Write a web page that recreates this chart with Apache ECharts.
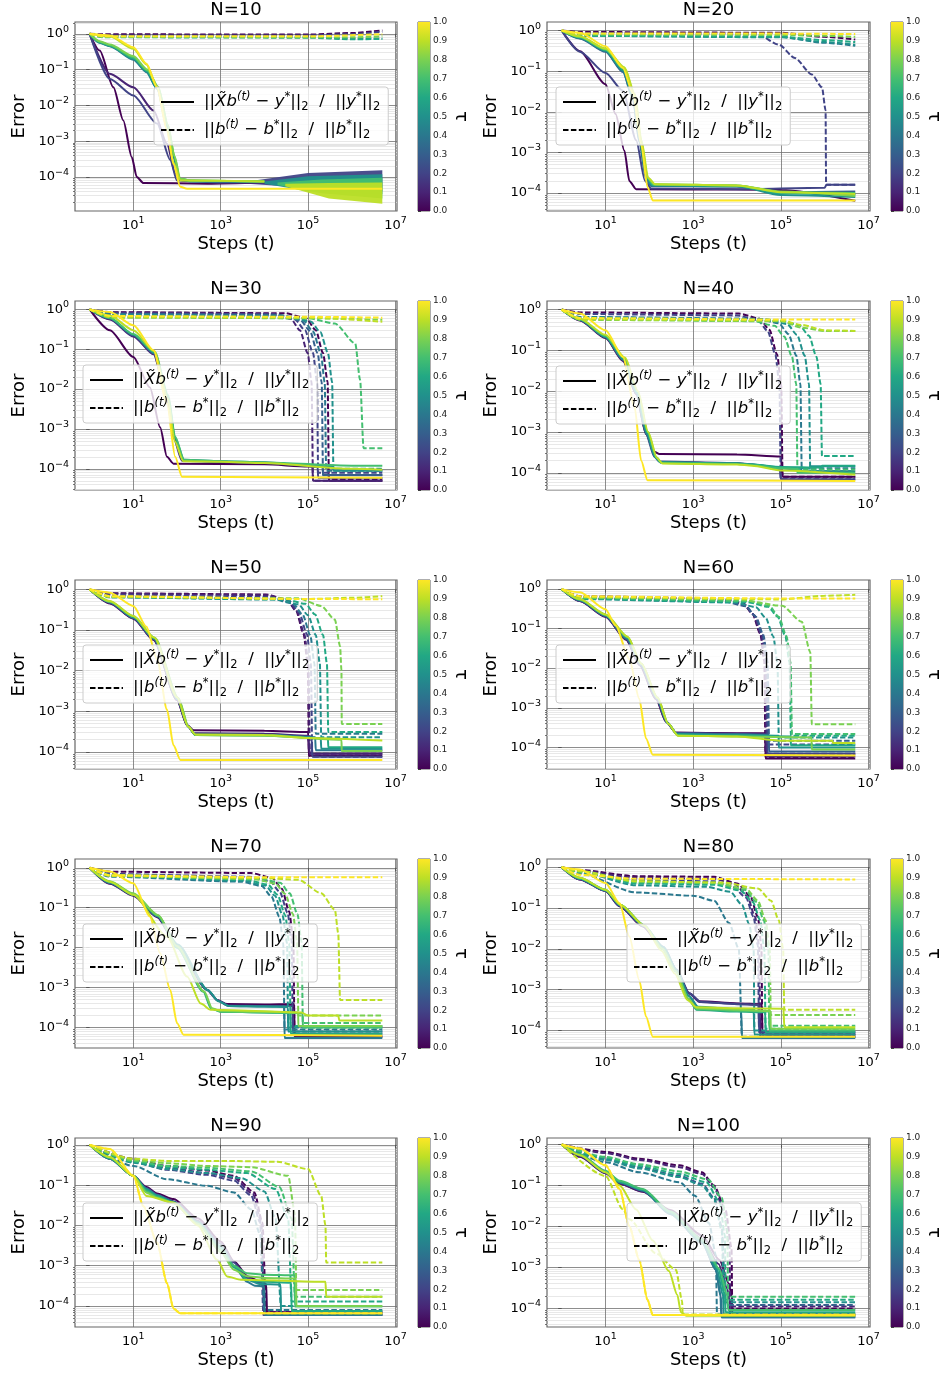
<!DOCTYPE html>
<html><head><meta charset="utf-8">
<script src="https://cdn.jsdelivr.net/npm/echarts@6/dist/echarts.min.js"></script>
<style>html,body{margin:0;padding:0;background:#fff}#c{width:943px;height:1376px}</style>
</head><body><div id="c"></div>
<script>
// ---------------- labels / ticks ----------------
const PANEL_NAMES = ['N=10','N=20','N=30','N=40','N=50','N=60','N=70','N=80','N=90','N=100'];
const X_TICK_EXP = [1, 3, 5, 7];
const Y_TICK_EXP = [0, -1, -2, -3, -4];
const CB_TICKS = [0, 0.1, 0.2, 0.3, 0.4, 0.5, 0.6, 0.7, 0.8, 0.9, 1.0];
const X_NAME = 'Steps (t)', Y_NAME = 'Error', CB_NAME = 'τ';

// ---------------- data: [tau, [t1,err1, t2,err2, ...]] ----------------
const solid_N10 = [
 [0.0,[1,1, 1.7,0.34, 3.5,0.032, 5.9,0.0038, 9.2,3.6e-4, 12,1e-4, 17,6.8e-5, 500,6.5e-5, 1e4,7e-5]],
 [0.1,[1,1, 2.9,0.076, 10,0.032, 29,0.0072, 59,8.5e-4, 91,1.25e-4, 131,8e-5, 1e3,7.5e-5, 1e4,7.5e-5]],
 [0.2,[1,1, 2.9,0.055, 10,0.019, 35,0.0031, 70,3e-4, 100,8e-5, 1e3,7e-5, 1e4,7e-5]],
 [0.4,[1,1, 1.7,0.56, 2.9,0.45, 10,0.19, 20,0.085, 35,0.029, 59,0.0025, 83,3.6e-4, 110,9e-5, 200,7.5e-5, 1e4,7.5e-5]],
 [0.5,[1,1, 1.7,0.57, 2.9,0.46, 10,0.2, 20,0.088, 35,0.03, 60,0.0026, 85,3.6e-4, 112,9e-5, 200,7.6e-5, 1e4,7.5e-5]],
 [0.6,[1,1, 1.7,0.58, 2.9,0.47, 10,0.21, 21,0.09, 36,0.031, 61,0.0027, 86,3.7e-4, 114,9e-5, 200,7.8e-5, 1e4,7.5e-5]],
 [0.7,[1,1, 1.7,0.6, 2.9,0.48, 10,0.22, 21,0.095, 37,0.032, 62,0.0028, 87,3.8e-4, 116,9e-5, 200,8e-5, 1e4,7.5e-5]],
 [0.8,[1,1, 1.7,0.62, 2.9,0.5, 10,0.24, 21,0.1, 37,0.033, 62,0.0028, 88,3.8e-4, 118,9e-5, 200,8e-5, 1e4,7.5e-5]],
 [0.9,[1,1, 2.9,0.85, 10,0.38, 20,0.14, 35,0.032, 59,0.0022, 83,2.5e-4, 120,8e-5, 1e4,7.5e-5]],
 [1.0,[1,1, 2.9,0.9, 10,0.42, 20,0.145, 35,0.032, 59,0.002, 83,2.3e-4, 119,5.3e-5, 170,4.7e-5, 5e6,4.7e-5]]
];
const dashed_N10 = [
 [0.0,[1,1, 2,0.97, 1e5,0.95, 1e6,1.05, 5e6,1.25]],
 [0.2,[1,1, 2,0.9, 1e5,0.9, 1e6,0.98, 5e6,1.15]],
 [0.4,[1,1, 2,0.84, 1e5,0.82, 1e6,0.74, 5e6,0.74]],
 [0.6,[1,1, 2,0.8, 1e5,0.78, 1e6,0.7, 5e6,0.72]],
 [0.8,[1,1, 2,0.82, 1e5,0.8, 1e6,0.8, 5e6,0.85]],
 [1.0,[1,1, 2,0.85, 1e5,0.85, 5e6,0.98]]
];
// noisy tails of N=10: [tau, upper, lower]
const band_N10 = [
 [0.2,[4e3,7.5e-5, 1e5,1.3e-4, 5e6,1.55e-4],[4e3,6.5e-5, 1e5,5e-5, 5e6,4e-5]],
 [0.5,[1e4,7.5e-5, 1e5,1.05e-4, 5e6,1.2e-4],[1e4,6.5e-5, 1e5,4e-5, 5e6,3.3e-5]],
 [0.7,[2e4,7e-5, 2e5,8.5e-5, 5e6,9.5e-5],[2e4,6e-5, 2e5,3.5e-5, 5e6,2.5e-5]],
 [0.9,[3e4,6.5e-5, 3e5,6.8e-5, 5e6,7e-5],[3e4,5.5e-5, 3e5,2.5e-5, 5e6,1.8e-5]]
];

const solid_N20 = [
 [0.0,[1,1, 2.6,0.31, 10,0.048, 17,0.0088, 27,0.0011, 35,2e-4, 50,1.25e-4, 1e4,1.22e-4, 1e5,1.2e-4, 5e6,6.5e-5]],
 [0.2,[1,1, 2.6,0.3, 10,0.09, 25,0.033, 50,0.002, 80,2e-4, 110,1.3e-4, 1e4,1.25e-4, 1e6,1.35e-4, 1.1e6,1.6e-4, 5e6,1.6e-4]],
 [0.3,[1,1, 2.6,0.64, 10,0.3, 25,0.095, 42,0.021, 59,0.0018, 84,2.3e-4, 110,1.5e-4, 1e4,1.45e-4, 1e5,1.05e-4, 5e6,1.1e-4]],
 [0.4,[1,1, 2.6,0.65, 10,0.31, 25,0.1, 42,0.022, 60,0.0019, 85,2.4e-4, 112,1.55e-4, 1e4,1.45e-4, 1e5,1e-4, 5e6,9.5e-5]],
 [0.5,[1,1, 2.6,0.66, 10,0.32, 25,0.105, 43,0.023, 61,0.002, 86,2.4e-4, 115,1.55e-4, 1e4,1.5e-4, 1e5,9e-5, 5e6,8e-5]],
 [0.6,[1,1, 2.6,0.68, 10,0.33, 26,0.11, 44,0.024, 62,0.002, 88,2.4e-4, 120,1.6e-4, 1e4,1.5e-4, 1e5,1e-4, 5e6,9e-5]],
 [0.7,[1,1, 2.6,0.69, 10,0.34, 26,0.115, 45,0.025, 64,0.002, 90,2.4e-4, 125,1.6e-4, 1e4,1.55e-4, 1e5,1.05e-4, 5e6,1e-4]],
 [0.8,[1,1, 2.6,0.7, 10,0.35, 27,0.12, 46,0.026, 65,0.002, 92,2.4e-4, 130,1.65e-4, 1e4,1.55e-4, 1e5,1.1e-4, 5e6,8.5e-5]],
 [0.9,[1,1, 2.6,0.72, 10,0.36, 27,0.125, 47,0.027, 66,0.002, 94,2.4e-4, 135,1.65e-4, 1e4,1.55e-4, 1e5,1.05e-4, 5e6,9.5e-5]],
 [1.0,[1,1, 2.6,0.88, 10,0.41, 25,0.12, 42,0.029, 65,0.0016, 91,1.4e-4, 120,6.6e-5, 5e6,6.6e-5]]
];
const dashed_N20 = [
 [0.0,[1,1, 2.6,0.92, 1e5,0.88, 1e6,0.7, 5e6,0.6]],
 [0.2,[1,1, 2.6,0.86, 3e4,0.8, 9e4,0.45, 2.1e5,0.21, 5.1e5,0.083, 8.7e5,0.04, 1.05e6,0.011, 1.08e6,1.6e-4, 5e6,1.6e-4]],
 [0.4,[1,1, 2.6,0.76, 1e5,0.7, 1e6,0.5, 5e6,0.42]],
 [0.5,[1,1, 2.6,0.74, 1e5,0.68, 1e6,0.52, 5e6,0.45]],
 [0.6,[1,1, 2.6,0.74, 1e5,0.7, 1e6,0.58, 5e6,0.52]],
 [0.8,[1,1, 2.6,0.8, 1e5,0.78, 1e6,0.74, 5e6,0.7]],
 [1.0,[1,1, 2.6,0.84, 1e5,0.84, 5e6,0.82]]
];

const solid_N30 = [
 [0.0,[1,1, 2.9,0.3, 10,0.064, 24,0.011, 41,1.1e-3, 59,2e-4, 83,1.35e-4, 1e4,1.3e-4, 1e5,1.15e-4, 2.9e5,1.1e-4, 3e5,5e-5, 5e6,5e-5]],
 [0.1,[1,1, 2.9,0.56, 10,0.21, 29,0.075, 59,0.006, 83,6e-4, 130,1.6e-4, 1e3,1.5e-4, 1e4,1.4e-4, 1.25e5,1.2e-4, 1.3e5,5e-5, 5e6,5e-5]],
 [0.2,[1,1, 2.9,0.58, 10,0.22, 29,0.078, 60,0.0065, 85,6.3e-4, 135,1.65e-4, 1e3,1.5e-4, 1e4,1.4e-4, 1.65e5,1.15e-4, 1.7e5,6e-5, 5e6,6e-5]],
 [0.3,[1,1, 2.9,0.6, 10,0.23, 30,0.08, 62,0.0065, 88,6.3e-4, 140,1.6e-4, 1e3,1.5e-4, 1e4,1.45e-4, 2.15e5,1.15e-4, 2.2e5,7e-5, 5e6,7e-5]],
 [0.5,[1,1, 2.9,0.6, 10,0.23, 31,0.08, 63,0.006, 90,6e-4, 145,1.7e-4, 1e3,1.55e-4, 1e4,1.45e-4, 3.7e5,1.15e-4, 3.8e5,9e-5, 5e6,9e-5]],
 [0.7,[1,1, 2.9,0.62, 10,0.24, 31,0.085, 63,0.007, 90,6.5e-4, 145,1.7e-4, 1e3,1.55e-4, 1e4,1.45e-4, 1e6,1.2e-4, 5e6,1.2e-4]],
 [0.9,[1,1, 2.9,0.7, 10,0.3, 30,0.09, 62,0.0055, 88,5e-4, 140,1.55e-4, 1e3,1.5e-4, 1e4,1.4e-4, 1e6,1e-4, 5e6,9.5e-5]],
 [1.0,[1,1, 2.9,0.86, 10,0.4, 29,0.094, 59,0.0043, 91,2e-4, 130,6.3e-5, 5e6,6e-5]]
];
const dashed_N30 = [
 [0.0,[1,1, 3,0.85, 3e4,0.8, 9e4,0.6, 1.5e5,0.3, 2.2e5,0.08, 2.8e5,0.015, 3e5,5.5e-5, 5e6,5.5e-5]],
 [0.1,[1,1, 3,0.83, 1.3e4,0.78, 4e4,0.58, 6.5e4,0.3, 9.8e4,0.08, 1.2e5,0.015, 1.3e5,5e-5, 5e6,5e-5]],
 [0.2,[1,1, 3,0.8, 1.7e4,0.75, 5e4,0.56, 8.5e4,0.3, 1.3e5,0.08, 1.6e5,0.015, 1.7e5,8e-5, 5e6,8e-5]],
 [0.3,[1,1, 3,0.77, 2.2e4,0.72, 6.6e4,0.54, 1.1e5,0.29, 1.65e5,0.08, 2.05e5,0.015, 2.2e5,7e-5, 5e6,7e-5]],
 [0.4,[1,1, 3,0.75, 2.6e4,0.7, 7.8e4,0.52, 1.3e5,0.28, 1.95e5,0.08, 2.4e5,0.015, 2.6e5,9e-5, 5e6,9e-5]],
 [0.5,[1,1, 3,0.72, 3.8e4,0.66, 1.15e5,0.5, 1.9e5,0.27, 2.85e5,0.08, 3.55e5,0.015, 3.8e5,1e-4, 5e6,1e-4]],
 [0.7,[1,1, 3,0.65, 1e5,0.6, 4.1e5,0.44, 1.2e6,0.14, 1.55e6,0.017, 1.86e6,3.3e-4, 5e6,3.3e-4]],
 [0.8,[1,1, 3,0.62, 1e5,0.6, 5e6,0.55]],
 [0.9,[1,1, 3,0.64, 1e5,0.62, 5e6,0.49]],
 [1.0,[1,1, 3,0.68, 1e5,0.65, 5e6,0.62]]
];

const solid_N40 = [
 [0.0,[1,1, 2.6,0.54, 10,0.2, 25,0.055, 50,0.0085, 84,9e-4, 130,3.3e-4, 170,2.9e-4, 1e4,2.8e-4, 1e5,2.5e-4, 1.1e5,8e-5, 5e6,8e-5]],
 [0.2,[1,1, 2.6,0.55, 10,0.21, 25,0.057, 50,0.0088, 84,9e-4, 130,2.5e-4, 170,1.9e-4, 1e4,1.75e-4, 2.2e4,1.6e-4, 9.5e4,1.2e-4, 1e5,7e-5, 5e6,7e-5]],
 [0.4,[1,1, 2.6,0.56, 10,0.21, 26,0.058, 51,0.009, 86,9e-4, 135,2.4e-4, 175,1.85e-4, 1e4,1.7e-4, 2.2e4,1.6e-4, 1e5,1.3e-4, 2.95e5,1.2e-4, 3e5,1.1e-4, 5e6,1.1e-4]],
 [0.5,[1,1, 2.6,0.57, 10,0.22, 26,0.06, 52,0.009, 88,9.5e-4, 138,2.4e-4, 180,1.8e-4, 1e4,1.7e-4, 2.2e4,1.6e-4, 1e5,1.35e-4, 4.6e5,1.3e-4, 4.7e5,1.45e-4, 5e6,1.45e-4]],
 [0.6,[1,1, 2.6,0.58, 10,0.22, 27,0.062, 53,0.0095, 90,9.5e-4, 140,2.4e-4, 185,1.8e-4, 1e4,1.7e-4, 2.2e4,1.6e-4, 1e5,1.4e-4, 8.6e5,1.35e-4, 8.7e5,1.5e-4, 5e6,1.5e-4]],
 [0.7,[1,1, 2.6,0.58, 10,0.23, 27,0.064, 54,0.01, 92,1e-3, 145,2.4e-4, 190,1.75e-4, 1e4,1.65e-4, 2.2e4,1.55e-4, 1e5,1.3e-4, 2.35e5,1.25e-4, 2.4e5,1e-4, 5e6,1e-4]],
 [0.9,[1,1, 2.6,0.6, 10,0.24, 28,0.066, 55,0.01, 94,1e-3, 150,2.3e-4, 200,1.7e-4, 1e4,1.6e-4, 2.2e4,1.5e-4, 1e5,1.15e-4, 5e6,9e-5]],
 [1.0,[1,1, 2.6,0.8, 10,0.31, 25,0.069, 46,0.0042, 65,2e-4, 91,6.6e-5, 5e6,6.3e-5]]
];
const dashed_N40 = [
 [0.0,[1,1, 2.6,0.85, 1.1e4,0.8, 3.3e4,0.6, 5.5e4,0.32, 8.2e4,0.08, 1.02e5,0.015, 1.1e5,8e-5, 5e6,8e-5]],
 [0.2,[1,1, 2.6,0.78, 1e4,0.72, 3e4,0.55, 5e4,0.3, 7.5e4,0.08, 9.3e4,0.015, 1e5,7e-5, 5e6,7e-5]],
 [0.4,[1,1, 2.6,0.66, 3e4,0.6, 9e4,0.46, 1.5e5,0.25, 2.25e5,0.075, 2.8e5,0.015, 3e5,1.3e-4, 5e6,1.3e-4]],
 [0.5,[1,1, 2.6,0.64, 4.7e4,0.58, 1.4e5,0.44, 2.35e5,0.24, 3.5e5,0.075, 4.4e5,0.015, 4.7e5,1.1e-4, 5e6,1.1e-4]],
 [0.6,[1,1, 2.6,0.62, 8.7e4,0.55, 2.6e5,0.42, 4.4e5,0.23, 6.5e5,0.07, 8.1e5,0.015, 8.7e5,2.6e-4, 5e6,2.6e-4]],
 [0.7,[1,1, 2.6,0.6, 2.4e4,0.52, 7.2e4,0.4, 1.2e5,0.22, 1.8e5,0.07, 2.25e5,0.015, 2.4e5,1.2e-4, 5e6,1.2e-4]],
 [0.8,[1,1, 2.6,0.56, 1e5,0.52, 3e5,0.36, 1e6,0.3, 5e6,0.3]],
 [0.9,[1,1, 2.6,0.58, 1e5,0.54, 3e5,0.42, 1e6,0.31, 5e6,0.3]],
 [1.0,[1,1, 2.6,0.62, 1e5,0.57, 5e6,0.57]]
];

const solid_N50 = [
 [0.0,[1,1, 2.9,0.45, 10,0.19, 29,0.057, 100,0.0019, 170,4.6e-4, 240,3.4e-4, 1e4,3.3e-4, 1e5,3.1e-4, 1.05e5,8e-5, 5e6,8e-5]],
 [0.1,[1,1, 2.9,0.46, 10,0.195, 29,0.058, 100,0.0019, 172,4.4e-4, 245,2.9e-4, 1e4,2.8e-4, 1e5,2.5e-4, 1.1e5,9e-5, 5e6,9e-5]],
 [0.2,[1,1, 2.9,0.47, 10,0.2, 29,0.06, 100,0.002, 175,4.4e-4, 250,2.8e-4, 1e4,2.7e-4, 1.2e5,2.4e-4, 1.25e5,7.6e-5, 5e6,7.6e-5]],
 [0.4,[1,1, 2.9,0.48, 10,0.2, 30,0.06, 102,0.002, 178,4.3e-4, 255,2.7e-4, 1e4,2.6e-4, 1.45e5,2.3e-4, 1.5e5,1.1e-4, 5e6,1.1e-4]],
 [0.5,[1,1, 2.9,0.49, 10,0.21, 30,0.062, 104,0.002, 180,4.2e-4, 260,2.6e-4, 1e4,2.6e-4, 1.95e5,2.2e-4, 2e5,1.2e-4, 5e6,1.2e-4]],
 [0.6,[1,1, 2.9,0.5, 10,0.21, 31,0.063, 106,0.0021, 182,4.2e-4, 265,2.6e-4, 1e4,2.55e-4, 2.85e5,2.1e-4, 2.9e5,1.3e-4, 5e6,1.3e-4]],
 [0.8,[1,1, 2.9,0.5, 10,0.22, 31,0.064, 108,0.0021, 185,4.1e-4, 270,2.6e-4, 1e4,2.5e-4, 5.8e5,2e-4, 5.9e5,1.05e-4, 5e6,1.05e-4]],
 [0.9,[1,1, 2.9,0.52, 10,0.22, 30,0.065, 100,0.0022, 180,4.2e-4, 260,2.7e-4, 1e4,2.6e-4, 1e5,2.2e-4, 5e6,1.9e-4]],
 [1.0,[1,1, 2.9,0.83, 10,0.39, 20,0.12, 35,0.019, 59,1.1e-3, 83,1.45e-4, 120,6.3e-5, 5e6,6.3e-5]]
];
const dashed_N50 = [
 [0.0,[1,1, 2.9,0.8, 1.05e4,0.75, 3.2e4,0.57, 5.3e4,0.3, 7.9e4,0.08, 9.8e4,0.015, 1.05e5,8e-5, 5e6,8e-5]],
 [0.1,[1,1, 2.9,0.78, 1.1e4,0.72, 3.3e4,0.55, 5.5e4,0.29, 8.2e4,0.08, 1.02e5,0.015, 1.1e5,9e-5, 5e6,9e-5]],
 [0.2,[1,1, 2.9,0.72, 1.25e4,0.65, 3.8e4,0.5, 6.2e4,0.27, 9.4e4,0.08, 1.16e5,0.015, 1.25e5,7.6e-5, 5e6,7.6e-5]],
 [0.4,[1,1, 2.9,0.66, 1.5e4,0.58, 4.5e4,0.45, 7.5e4,0.24, 1.12e5,0.075, 1.4e5,0.015, 1.5e5,2.8e-4, 5e6,2.8e-4]],
 [0.5,[1,1, 2.9,0.64, 2e4,0.56, 6e4,0.43, 1e5,0.23, 1.5e5,0.075, 1.86e5,0.015, 2e5,2.3e-4, 5e6,2.3e-4]],
 [0.6,[1,1, 2.9,0.64, 2.9e4,0.57, 8.7e4,0.44, 1.45e5,0.24, 2.2e5,0.075, 2.7e5,0.015, 2.9e5,3.1e-4, 5e6,3.1e-4]],
 [0.8,[1,1, 2.9,0.65, 6e4,0.6, 2e5,0.39, 4.1e5,0.18, 5.4e5,0.04, 5.8e5,0.01, 5.9e5,4.9e-4, 5e6,4.9e-4]],
 [0.9,[1,1, 2.9,0.66, 1e5,0.58, 1e6,0.62, 5e6,0.68]],
 [1.0,[1,1, 2.9,0.68, 1e5,0.58, 5e6,0.57]]
];

const solid_N60 = [
 [0.0,[1,1, 2.6,0.5, 10,0.2, 29.5,0.053, 60,0.012, 141,0.0017, 240,4.5e-4, 405,2.4e-4, 1e4,2.3e-4, 4.4e4,2.3e-4, 4.5e4,5.3e-5, 5e6,5.3e-5]],
 [0.1,[1,1, 2.6,0.5, 10,0.205, 29.5,0.054, 61,0.012, 143,0.0017, 245,4.4e-4, 410,2.35e-4, 1e4,2.25e-4, 4.6e4,2.2e-4, 4.7e4,6e-5, 5e6,6e-5]],
 [0.2,[1,1, 2.6,0.51, 10,0.21, 30,0.055, 62,0.012, 145,0.0017, 250,4.4e-4, 415,2.3e-4, 1e4,2.2e-4, 4.9e4,2.1e-4, 5e4,7e-5, 5e6,7e-5]],
 [0.3,[1,1, 2.6,0.52, 10,0.21, 30,0.056, 63,0.0125, 148,0.0018, 255,4.3e-4, 420,2.3e-4, 1e4,2.2e-4, 5.3e4,2.1e-4, 5.4e4,8e-5, 5e6,8e-5]],
 [0.5,[1,1, 2.6,0.53, 10,0.22, 31,0.058, 64,0.013, 150,0.0018, 260,4.2e-4, 430,2.2e-4, 1e4,2.1e-4, 8.9e4,2e-4, 9e4,1e-4, 5e6,1e-4]],
 [0.6,[1,1, 2.6,0.54, 10,0.22, 31,0.06, 65,0.013, 152,0.0018, 265,4.1e-4, 440,2.1e-4, 1e4,2e-4, 1.68e5,1.9e-4, 1.7e5,1.15e-4, 5e6,1.15e-4]],
 [0.8,[1,1, 2.6,0.55, 10,0.23, 32,0.062, 66,0.013, 155,0.0018, 270,4e-4, 450,2e-4, 1e4,1.9e-4, 5e5,1.8e-4, 5.1e5,9e-5, 5e6,9e-5]],
 [0.9,[1,1, 2.6,0.56, 10,0.23, 32,0.063, 66,0.013, 155,0.0018, 270,4e-4, 450,2e-4, 1e4,1.9e-4, 1e5,1.5e-4, 1.5e6,1.5e-4, 1.55e6,1.3e-4, 5e6,1.3e-4]],
 [1.0,[1,1, 2.6,0.83, 10,0.31, 17,0.12, 35,0.017, 59,0.0017, 84,1.7e-4, 120,6.6e-5, 5e6,6.3e-5]]
];
const dashed_N60 = [
 [0.0,[1,1, 2.6,0.66, 4.5e3,0.58, 1.35e4,0.45, 2.25e4,0.24, 3.4e4,0.075, 4.2e4,0.015, 4.5e4,5.5e-5, 5e6,5.5e-5]],
 [0.1,[1,1, 2.6,0.63, 4.7e3,0.55, 1.4e4,0.43, 2.35e4,0.23, 3.5e4,0.075, 4.4e4,0.015, 4.7e4,7e-5, 5e6,7e-5]],
 [0.2,[1,1, 2.6,0.6, 5e3,0.52, 1.5e4,0.4, 2.5e4,0.22, 3.75e4,0.07, 4.65e4,0.015, 5e4,1.2e-4, 5e6,1.2e-4]],
 [0.3,[1,1, 2.6,0.58, 5.4e3,0.48, 1.6e4,0.37, 2.7e4,0.2, 4e4,0.07, 5e4,0.015, 5.4e4,1.5e-4, 5e6,1.5e-4]],
 [0.5,[1,1, 2.6,0.56, 9e3,0.46, 2.7e4,0.35, 4.5e4,0.19, 6.7e4,0.065, 8.4e4,0.014, 9e4,1.8e-4, 5e6,1.8e-4]],
 [0.6,[1,1, 2.6,0.57, 1.7e4,0.47, 5.1e4,0.36, 8.5e4,0.2, 1.27e5,0.065, 1.58e5,0.014, 1.7e5,2e-4, 5e6,2e-4]],
 [0.7,[1,1, 2.6,0.6, 1.8e4,0.5, 5.4e4,0.38, 9e4,0.2, 1.35e5,0.065, 1.67e5,0.014, 1.8e5,2.2e-4, 5e6,2.2e-4]],
 [0.8,[1,1, 2.6,0.62, 1e4,0.55, 1.07e5,0.38, 3e5,0.15, 4.7e5,0.026, 5.1e5,3.9e-4, 5e6,3.9e-4]],
 [0.9,[1,1, 2.6,0.63, 1e5,0.55, 1e6,0.68, 5e6,0.72]],
 [1.0,[1,1, 2.6,0.66, 1e5,0.58, 5e6,0.58]]
];

const solid_N70 = [
 [0.0,[1,1, 2.9,0.4, 10,0.2, 35,0.058, 100,0.011, 490,8.8e-4, 830,4.9e-4, 1.4e3,3.9e-4, 1e4,3.8e-4, 4.8e4,3.9e-4, 4.9e4,6e-5, 5e6,6e-5]],
 [0.2,[1,1, 2.9,0.41, 10,0.205, 35,0.06, 100,0.0115, 500,8.8e-4, 850,4.8e-4, 1.5e3,3.6e-4, 1e4,3.5e-4, 4.4e4,3.5e-4, 4.5e4,7e-5, 5e6,7e-5]],
 [0.4,[1,1, 2.9,0.42, 10,0.21, 36,0.061, 102,0.0115, 510,8.6e-4, 870,4.7e-4, 1.5e3,3.5e-4, 1e4,3.4e-4, 2.85e4,3.4e-4, 2.9e4,5.5e-5, 5e6,5.5e-5]],
 [0.5,[1,1, 2.9,0.43, 10,0.21, 36,0.062, 104,0.012, 520,8.5e-4, 880,4.6e-4, 1.5e3,3.5e-4, 1e4,3.4e-4, 3.45e4,3.3e-4, 3.5e4,8e-5, 5e6,8e-5]],
 [0.6,[1,1, 2.9,0.44, 10,0.22, 36,0.063, 100,0.01, 400,8e-4, 600,3e-4, 1e3,2.5e-4, 1e4,2.4e-4, 3.9e4,2.3e-4, 4e4,7e-5, 5e6,7e-5]],
 [0.7,[1,1, 2.9,0.45, 10,0.22, 37,0.064, 100,0.0105, 410,8e-4, 620,3e-4, 1e3,2.5e-4, 1e4,2.4e-4, 7.5e4,2.3e-4, 7.6e4,1e-4, 5e6,1e-4]],
 [0.8,[1,1, 2.9,0.46, 10,0.23, 37,0.065, 100,0.011, 420,8e-4, 640,3e-4, 1e3,2.6e-4, 1e4,2.5e-4, 5.9e4,2.4e-4, 6e4,1.1e-4, 5e6,1.1e-4]],
 [0.9,[1,1, 2.9,0.45, 10,0.21, 59,0.019, 170,0.0019, 350,4e-4, 590,2.8e-4, 7e4,2.4e-4, 1e5,2e-4, 4.9e5,2e-4, 5.2e5,1.5e-4, 5e6,1.5e-4]],
 [1.0,[1,1, 2.9,0.81, 10,0.41, 24,0.06, 41,0.0073, 70,8.8e-4, 100,1.3e-4, 141,6.6e-5, 5e6,6.3e-5]]
];
const dashed_N70 = [
 [0.0,[1,1, 2.9,0.8, 4.9e3,0.74, 1.5e4,0.56, 2.5e4,0.3, 3.7e4,0.08, 4.6e4,0.015, 4.9e4,6e-5, 5e6,6e-5]],
 [0.2,[1,1, 2.9,0.7, 4.5e3,0.6, 1.35e4,0.46, 2.25e4,0.25, 3.4e4,0.075, 4.2e4,0.015, 4.5e4,8e-5, 5e6,8e-5]],
 [0.4,[1,1, 2.9,0.6, 2.9e3,0.45, 8.7e3,0.35, 1.45e4,0.19, 2.2e4,0.06, 2.7e4,0.013, 2.9e4,9e-5, 5e6,9e-5]],
 [0.5,[1,1, 2.9,0.62, 3.5e3,0.47, 1.05e4,0.36, 1.75e4,0.2, 2.6e4,0.065, 3.3e4,0.013, 3.5e4,1e-4, 5e6,1e-4]],
 [0.6,[1,1, 2.9,0.64, 4e3,0.5, 1.2e4,0.38, 2e4,0.21, 3e4,0.065, 3.7e4,0.013, 4e4,1.1e-4, 5e6,1.1e-4]],
 [0.7,[1,1, 2.9,0.66, 7.6e3,0.55, 2.3e4,0.42, 3.8e4,0.23, 5.7e4,0.07, 7.1e4,0.014, 7.6e4,1.3e-4, 5e6,1.3e-4]],
 [0.8,[1,1, 2.9,0.65, 6e3,0.52, 1.8e4,0.4, 3e4,0.22, 4.5e4,0.07, 5.6e4,0.014, 6e4,2e-4, 5e6,2e-4]],
 [0.9,[1,1, 2.9,0.62, 1e4,0.55, 6e4,0.5, 2e5,0.23, 4.1e5,0.089, 4.9e5,0.023, 5.4e5,4.9e-4, 5e6,4.9e-4]],
 [1.0,[1,1, 2.9,0.65, 1e4,0.58, 5e6,0.58]]
];

const solid_N80 = [
 [0.0,[1,1, 2.6,0.5, 10,0.26, 21,0.11, 71,0.035, 200,0.01, 405,0.003, 810,8.1e-4, 1.4e3,5.2e-4, 1e4,4.6e-4, 3.7e4,4.4e-4, 3.8e4,8e-5, 5e6,8e-5]],
 [0.1,[1,1, 2.6,0.5, 10,0.26, 21,0.11, 72,0.036, 205,0.0105, 410,0.003, 820,8e-4, 1.4e3,5e-4, 1e4,4.5e-4, 3.3e4,4.3e-4, 3.4e4,7e-5, 5e6,7e-5]],
 [0.2,[1,1, 2.6,0.51, 10,0.265, 21,0.112, 73,0.036, 210,0.011, 420,0.0031, 830,8e-4, 1.5e3,5e-4, 1e4,4.4e-4, 3.1e4,4.2e-4, 3.2e4,9e-5, 5e6,9e-5]],
 [0.4,[1,1, 2.6,0.52, 10,0.27, 22,0.115, 74,0.037, 210,0.011, 420,0.003, 800,7e-4, 1.3e3,3.5e-4, 1e4,3e-4, 1.25e4,3e-4, 1.3e4,6.5e-5, 5e6,6.5e-5]],
 [0.5,[1,1, 2.6,0.52, 10,0.27, 22,0.115, 74,0.037, 210,0.011, 420,0.003, 800,7e-4, 1.3e3,3.8e-4, 1e4,3.3e-4, 2.4e4,3.2e-4, 2.5e4,8e-5, 5e6,8e-5]],
 [0.6,[1,1, 2.6,0.53, 10,0.275, 22,0.118, 75,0.038, 200,0.01, 400,0.0028, 780,6e-4, 1.2e3,3.2e-4, 1e4,2.9e-4, 4.4e4,2.8e-4, 4.5e4,9e-5, 5e6,9e-5]],
 [0.7,[1,1, 2.6,0.54, 10,0.28, 22,0.12, 76,0.038, 200,0.01, 400,0.0028, 780,6e-4, 1.2e3,3.3e-4, 1e4,3e-4, 5.4e4,2.9e-4, 5.5e4,1e-4, 5e6,1e-4]],
 [0.8,[1,1, 2.6,0.55, 10,0.28, 22,0.12, 76,0.038, 200,0.01, 400,0.0028, 780,6e-4, 1.2e3,3.5e-4, 1e4,3.2e-4, 5.8e4,3e-4, 5.9e4,1.1e-4, 5e6,1.1e-4]],
 [0.9,[1,1, 2.6,0.55, 10,0.28, 22,0.12, 76,0.037, 190,0.009, 380,0.0025, 750,5.5e-4, 1.2e3,3.7e-4, 1e4,3.5e-4, 1.15e5,3.4e-4, 1.2e5,1.2e-4, 5e6,1.2e-4]],
 [1.0,[1,1, 2.6,0.88, 10,0.41, 21,0.13, 35,0.02, 59,0.0017, 84,2.2e-4, 120,7e-5, 5e6,7e-5]]
];
const dashed_N80 = [
 [0.0,[1,1, 2.6,0.85, 50,0.6, 3e3,0.58, 1e4,0.4, 2e4,0.2, 3e4,0.06, 3.6e4,0.012, 3.8e4,8e-5, 5e6,8e-5]],
 [0.1,[1,1, 2.6,0.82, 50,0.55, 3e3,0.52, 9e3,0.38, 1.7e4,0.2, 2.6e4,0.06, 3.2e4,0.012, 3.4e4,7e-5, 5e6,7e-5]],
 [0.2,[1,1, 2.6,0.8, 50,0.48, 3e3,0.45, 8e3,0.33, 1.6e4,0.18, 2.4e4,0.06, 3e4,0.012, 3.2e4,9e-5, 5e6,9e-5]],
 [0.4,[1,1, 2.6,0.7, 50,0.24, 1e3,0.2, 3e3,0.15, 6.6e3,0.043, 1.1e4,0.01, 1.3e4,7e-5, 5e6,7e-5]],
 [0.5,[1,1, 2.6,0.75, 50,0.36, 2e3,0.33, 7e3,0.25, 1.3e4,0.12, 1.9e4,0.04, 2.4e4,0.01, 2.5e4,1e-4, 5e6,1e-4]],
 [0.6,[1,1, 2.6,0.76, 50,0.4, 3e3,0.37, 1.2e4,0.27, 2.3e4,0.14, 3.4e4,0.05, 4.2e4,0.01, 4.5e4,1.1e-4, 5e6,1.1e-4]],
 [0.7,[1,1, 2.6,0.78, 50,0.43, 3e3,0.4, 1.5e4,0.28, 2.8e4,0.14, 4.1e4,0.05, 5.2e4,0.01, 5.5e4,1.3e-4, 5e6,1.3e-4]],
 [0.8,[1,1, 2.6,0.78, 50,0.45, 3e3,0.42, 1.6e4,0.3, 3e4,0.15, 4.5e4,0.05, 5.6e4,0.01, 5.9e4,2.4e-4, 5e6,2.4e-4]],
 [0.9,[1,1, 2.6,0.8, 50,0.45, 5e3,0.42, 3e4,0.3, 6e4,0.15, 9e4,0.05, 1.13e5,0.01, 1.2e5,3.2e-4, 5e6,3.2e-4]],
 [1.0,[1,1, 2.6,0.65, 50,0.52, 5e6,0.5]]
];

const solid_N90 = [
 [0.0,[1,1, 2.9,0.45, 10,0.17, 20,0.09, 35,0.062, 83,0.045, 300,0.015, 1e3,0.004, 2e3,0.0013, 4.2e3,5.4e-4, 8e3,4e-4, 1.1e4,3.5e-4, 1.15e4,7e-5, 5e6,7e-5]],
 [0.2,[1,1, 2.9,0.45, 10,0.17, 20,0.085, 35,0.058, 83,0.04, 300,0.013, 1e3,0.0035, 2e3,0.0012, 4e3,5e-4, 8e3,3.8e-4, 9.5e3,3.5e-4, 9.8e3,6e-5, 5e6,6e-5]],
 [0.4,[1,1, 2.9,0.45, 10,0.17, 20,0.08, 35,0.055, 83,0.038, 300,0.012, 1e3,0.003, 2e3,0.001, 4e3,4e-4, 6e3,3.2e-4, 1e4,3.1e-4, 1.02e4,6e-5, 5e6,6e-5]],
 [0.5,[1,1, 2.9,0.46, 10,0.17, 20,0.08, 35,0.055, 83,0.038, 300,0.012, 1e3,0.003, 2e3,0.001, 4e3,4.5e-4, 8e3,3.5e-4, 2.35e4,3.4e-4, 2.4e4,6.5e-5, 5e6,6.5e-5]],
 [0.6,[1,1, 2.9,0.47, 10,0.17, 20,0.075, 35,0.052, 83,0.037, 300,0.011, 1e3,0.0028, 2e3,9e-4, 4e3,4.5e-4, 1e4,4e-4, 4.1e4,3.8e-4, 4.2e4,7.5e-5, 5e6,7.5e-5]],
 [0.7,[1,1, 2.9,0.48, 10,0.17, 20,0.07, 35,0.05, 83,0.036, 300,0.011, 1e3,0.0025, 2e3,0.001, 4e3,6.5e-4, 1e4,6e-4, 4.9e4,5.8e-4, 5e4,9.7e-5, 5e6,9.7e-5]],
 [0.8,[1,1, 2.9,0.49, 10,0.17, 20,0.065, 35,0.048, 83,0.036, 300,0.011, 1e3,0.0022, 2e3,8e-4, 4e3,5.5e-4, 1e4,5e-4, 5.3e4,4.8e-4, 5.4e4,1e-4, 5e6,1e-4]],
 [0.9,[1,1, 2.9,0.5, 10,0.17, 20,0.054, 83,0.037, 300,0.01, 830,0.0014, 1.4e3,5.4e-4, 2.9e3,4.5e-4, 2.5e5,4e-4, 2.6e5,1.7e-4, 5e6,1.7e-4]],
 [1.0,[1,1, 2.9,0.79, 10,0.17, 17,0.03, 35,0.0037, 59,3.7e-4, 83,8.7e-5, 119,6.6e-5, 5e6,6.6e-5]]
];
const dashed_N90 = [
 [0.0,[1,1, 10,0.45, 59,0.3, 490,0.23, 2e3,0.17, 5.9e3,0.066, 9e3,0.012, 1.1e4,7e-5, 5e6,7e-5]],
 [0.1,[1,1, 10,0.42, 59,0.27, 490,0.2, 2e3,0.15, 5.5e3,0.06, 8.5e3,0.012, 1e4,6.5e-5, 5e6,6.5e-5]],
 [0.2,[1,1, 10,0.38, 59,0.24, 490,0.18, 2e3,0.13, 5e3,0.055, 8e3,0.012, 9.5e3,6e-5, 5e6,6e-5]],
 [0.4,[1,1, 10,0.3, 59,0.14, 490,0.096, 2e3,0.066, 5e3,0.025, 8e3,0.006, 1e4,8e-5, 5e6,8e-5]],
 [0.5,[1,1, 10,0.36, 59,0.25, 490,0.2, 3e3,0.15, 1e4,0.07, 1.8e4,0.015, 2.4e4,1e-4, 5e6,1e-4]],
 [0.6,[1,1, 10,0.38, 59,0.28, 490,0.24, 4e3,0.2, 1.8e4,0.08, 3.5e4,0.015, 4.2e4,1.3e-4, 5e6,1.3e-4]],
 [0.7,[1,1, 10,0.4, 59,0.3, 490,0.27, 5e3,0.22, 2.2e4,0.09, 4.2e4,0.015, 5e4,1.7e-4, 5e6,1.7e-4]],
 [0.8,[1,1, 10,0.42, 59,0.35, 490,0.3, 5e3,0.28, 3.5e4,0.17, 5e4,0.02, 5.4e4,2.5e-4, 5e6,2.5e-4]],
 [0.9,[1,1, 10,0.45, 59,0.4, 1e3,0.4, 2e4,0.38, 1e5,0.25, 2e5,0.054, 2.5e5,0.01, 2.6e5,1.2e-3, 5e6,1.2e-3]],
 [1.0,[1,1, 2.9,0.79, 10,0.17, 17,0.03, 35,0.0037, 59,3.7e-4, 83,8.7e-5, 119,6.6e-5, 5e6,6.6e-5]]
];

const solid_N100 = [
 [0.0,[1,1, 2.6,0.5, 10,0.2, 21,0.11, 71,0.07, 300,0.025, 1.6e3,0.006, 4e3,0.0015, 6.5e3,4e-4, 7.6e3,2e-4, 7.8e3,7e-5, 5e6,7e-5]],
 [0.1,[1,1, 2.6,0.52, 10,0.2, 21,0.11, 71,0.072, 300,0.023, 1.6e3,0.005, 3.8e3,0.0012, 6e3,3e-4, 6.8e3,1.5e-4, 7e3,6.5e-5, 5e6,6.5e-5]],
 [0.3,[1,1, 2.6,0.54, 10,0.21, 21,0.12, 71,0.075, 300,0.02, 1.6e3,0.004, 3.3e3,8.7e-4, 4.3e3,1.9e-4, 4.5e3,6e-5, 5e6,6e-5]],
 [0.4,[1,1, 2.6,0.55, 10,0.21, 21,0.12, 71,0.075, 300,0.02, 1.6e3,0.004, 3.3e3,8.7e-4, 4.2e3,2e-4, 4.4e3,6e-5, 5e6,6e-5]],
 [0.5,[1,1, 2.6,0.56, 10,0.22, 21,0.12, 71,0.077, 300,0.021, 1.6e3,0.0042, 3.5e3,9e-4, 4.8e3,2e-4, 5e3,7e-5, 5e6,7e-5]],
 [0.6,[1,1, 2.6,0.57, 10,0.22, 21,0.125, 71,0.08, 300,0.022, 1.6e3,0.0045, 3.8e3,9e-4, 5.3e3,2e-4, 5.5e3,8e-5, 5e6,8e-5]],
 [0.7,[1,1, 2.6,0.58, 10,0.23, 21,0.13, 71,0.082, 300,0.023, 1.6e3,0.0048, 4e3,9e-4, 6e3,2e-4, 6.3e3,9e-5, 5e6,9e-5]],
 [0.9,[1,1, 2.6,0.55, 10,0.21, 21,0.1, 50,0.026, 120,0.0045, 280,8.1e-4, 435,2.1e-4, 525,8e-5, 700,6.5e-5, 5e6,6.5e-5]],
 [1.0,[1,1, 2.6,0.8, 10,0.31, 21,0.082, 35,0.01, 59,0.0015, 91,1.6e-4, 120,6.8e-5, 5e6,6.8e-5]]
];
const dashed_N100 = [
 [0.0,[1,1, 10,0.66, 59,0.45, 490,0.31, 1.6e3,0.21, 3e3,0.1, 5.5e3,0.025, 7.5e3,0.003, 7.8e3,9.8e-5, 5e6,9.8e-5]],
 [0.1,[1,1, 10,0.62, 59,0.42, 490,0.28, 1.6e3,0.19, 3e3,0.09, 5e3,0.025, 6.8e3,0.003, 7e3,1.1e-4, 5e6,1.1e-4]],
 [0.3,[1,1, 10,0.45, 59,0.28, 490,0.17, 1.6e3,0.11, 3e3,0.05, 4.5e3,0.01, 5.5e3,1.2e-4, 5e6,1.2e-4]],
 [0.4,[1,1, 10,0.37, 59,0.21, 490,0.12, 1.1e3,0.056, 2.3e3,0.012, 3.3e3,0.002, 3.5e3,7e-5, 5e6,7e-5]],
 [0.5,[1,1, 10,0.42, 59,0.26, 490,0.16, 1.6e3,0.1, 3e3,0.045, 4.5e3,0.008, 5e3,1.4e-4, 5e6,1.4e-4]],
 [0.6,[1,1, 10,0.47, 59,0.3, 490,0.19, 2e3,0.12, 4e3,0.04, 5.3e3,0.006, 5.5e3,1.6e-4, 5e6,1.6e-4]],
 [0.7,[1,1, 10,0.5, 59,0.33, 490,0.22, 2.2e3,0.14, 4.5e3,0.05, 6e3,0.008, 6.3e3,1.9e-4, 5e6,1.9e-4]],
 [0.9,[1,1, 10,0.17, 25,0.026, 35,0.015, 140,0.0022, 405,8.7e-4, 560,1.5e-4, 575,7e-5, 5e6,7e-5]],
 [1.0,[1,1, 2.6,0.8, 10,0.31, 21,0.082, 35,0.01, 59,0.0015, 91,1.6e-4, 120,6.8e-5, 5e6,6.8e-5]]
];

const SOLID = [solid_N10, solid_N20, solid_N30, solid_N40, solid_N50, solid_N60, solid_N70, solid_N80, solid_N90, solid_N100];
const DASHED = [dashed_N10, dashed_N20, dashed_N30, dashed_N40, dashed_N50, dashed_N60, dashed_N70, dashed_N80, dashed_N90, dashed_N100];
const BANDS = [band_N10, [], [], [], [], [], [], [], [], []];

// ---------------- layout & style ----------------
const FONT = 'DejaVu Sans';
const VIRIDIS = ['#440154','#482475','#414487','#355f8d','#2a788e','#21918c','#22a884','#44bf70','#7ad151','#bddf26','#fde725'];
const COL_LEFT = [75, 547], COL_W = [322, 323], CB_LEFT = [418, 891], CB_W = 12;
const ROW_TOP = [22, 301, 580, 859, 1138], PLOT_H = 189;
const X_EXT = [-0.335, 7.035];
const Y_EXT = [[-4.95,0.33],[-4.44,0.21],[-4.53,0.21],[-4.42,0.21],[-4.42,0.23],[-4.54,0.23],[-4.51,0.22],[-4.43,0.2],[-4.52,0.17],[-4.46,0.16]];
const LEGEND_POS = [[154,87],[556,87],[83,365],[556,366],[83,645],[556,645],[83,924],[627,924],[83,1203],[627,1203]];

const powLabel = v => '{b|10}{e|' + String(Math.round(v)).replace('-', '−') + '}';
const POW_RICH = {
  b: {fontFamily: FONT, fontSize: 13, color: '#000', lineHeight: 19},
  e: {fontFamily: FONT, fontSize: 9.5, color: '#000', verticalAlign: 'top', lineHeight: 11}
};
function minorTicks(lo, hi) {
  const out = [];
  for (let e = Math.floor(lo); e <= Math.ceil(hi); e++)
    for (let k = 2; k <= 9; k++) { const v = e + Math.log10(k); if (v > lo && v < hi) out.push(v); }
  return out;
}
const toLog = flat => { const p = []; for (let i = 0; i < flat.length; i += 2) p.push([Math.log10(flat[i]), Math.log10(flat[i+1])]); return p; };
const color = tau => VIRIDIS[Math.round(tau * 10)];

const LEGEND_TEXT = {
  res: '{g|}{n|||}{i|X̃b}{s|(t)}{n| − }{i|y}{s|*}{n|||}{u|2}{n|  /  ||}{i|y}{s|*}{n|||}{u|2}',
  coef: '{g|}{n|||}{i|b}{s|(t)}{n| − }{i|b}{s|*}{n|||}{u|2}{n|  /  ||}{i|b}{s|*}{n|||}{u|2}'
};
const RICH = {
  g: {width: 5, height: 22},
  n: {fontFamily: FONT, fontSize: 16.5, color: '#000', lineHeight: 22},
  i: {fontFamily: FONT, fontSize: 16.5, fontStyle: 'italic', color: '#000', lineHeight: 22},
  s: {fontFamily: FONT, fontSize: 11.5, fontStyle: 'italic', color: '#000', verticalAlign: 'top', lineHeight: 12},
  u: {fontFamily: FONT, fontSize: 11.5, color: '#000', verticalAlign: 'bottom', lineHeight: 12}
};

const grids = [], xAxes = [], yAxes = [], series = [], legends = [], graphics = [];

PANEL_NAMES.forEach((name, p) => {
  const col = p % 2, row = Math.floor(p / 2);
  const top = ROW_TOP[row];
  const [ylo, yhi] = Y_EXT[p];
  grids.push({left: COL_LEFT[col], top, width: COL_W[col], height: PLOT_H, show: true, borderColor: '#666', borderWidth: 1.2, backgroundColor: 'transparent', containLabel: false, outerBoundsMode: 'none'});
  grids.push({left: CB_LEFT[col], top, width: CB_W, height: PLOT_H, show: true, borderColor: '#333', borderWidth: 0.8, backgroundColor: 'transparent', containLabel: false, outerBoundsMode: 'none'});
  const gMain = p * 2, gCb = p * 2 + 1;
  xAxes.push({type: 'value', gridIndex: gMain, min: X_EXT[0], max: X_EXT[1],
    axisLine: {show: false},
    axisTick: {show: true, customValues: X_TICK_EXP, length: 3.5, lineStyle: {color: '#555', width: 1}},
    axisLabel: {show: true, customValues: X_TICK_EXP, formatter: powLabel, rich: POW_RICH, margin: 5},
    splitLine: {show: true, lineStyle: {color: '#707070', width: 0.8}},
    name: X_NAME, nameLocation: 'middle', nameGap: 24, nameTextStyle: {fontFamily: FONT, fontSize: 18, color: '#000'}});
  xAxes.push({type: 'value', gridIndex: gCb, min: 0, max: 1, show: false});
  yAxes.push({type: 'value', gridIndex: gMain, min: ylo, max: yhi, position: 'left',
    axisLine: {show: false},
    axisTick: {show: true, customValues: Y_TICK_EXP, length: 3.5, lineStyle: {color: '#555', width: 1}},
    axisLabel: {show: true, customValues: Y_TICK_EXP, formatter: powLabel, rich: POW_RICH, margin: 6},
    splitLine: {show: true, lineStyle: {color: '#707070', width: 0.8}},
    name: Y_NAME, nameLocation: 'middle', nameGap: 47, nameTextStyle: {fontFamily: FONT, fontSize: 18, color: '#000'}});
  yAxes.push({type: 'value', gridIndex: gMain, min: ylo, max: yhi, position: 'left',
    axisLine: {show: false},
    axisTick: {show: true, customValues: minorTicks(ylo, yhi), length: 2, lineStyle: {color: '#555', width: 0.8}},
    axisLabel: {show: false},
    splitLine: {show: true, lineStyle: {color: '#e2e2e2', width: 0.8}}});
  yAxes.push({type: 'value', gridIndex: gCb, min: 0, max: 1, interval: 0.1, position: 'right',
    axisLine: {show: false},
    axisTick: {show: true, customValues: CB_TICKS, length: 3, lineStyle: {color: '#222', width: 0.8}},
    axisLabel: {show: true, customValues: CB_TICKS, formatter: v => v.toFixed(1), fontFamily: FONT, fontSize: 9, color: '#222', margin: 3},
    splitLine: {show: false},
    name: CB_NAME, nameLocation: 'middle', nameRotate: -90, nameGap: 20, nameTextStyle: {fontFamily: FONT, fontSize: 18, color: '#000'}});
  const xi = p * 2, yi = p * 3;

  BANDS[p].forEach(([tau, up, lo]) => {
    series.push({type: 'custom', xAxisIndex: xi, yAxisIndex: yi, data: [[0, 0]], silent: true, clip: true, z: 1,
      renderItem: (params, api) => {
        const pts = [];
        toLog(up).forEach(q => pts.push(api.coord(q)));
        toLog(lo).reverse().forEach(q => pts.push(api.coord(q)));
        return {type: 'polygon', shape: {points: pts}, style: {fill: color(tau), opacity: 0.95}};
      }});
  });

  const curves = [];
  SOLID[p].forEach(([tau, d]) => curves.push({tau, d, dashed: false}));
  DASHED[p].forEach(([tau, d]) => curves.push({tau, d, dashed: true}));
  curves.sort((a, b) => a.tau - b.tau || (a.dashed - b.dashed));
  curves.forEach(c => {
    series.push({type: 'line', xAxisIndex: xi, yAxisIndex: yi, data: toLog(c.d),
      symbol: 'none', showSymbol: false, smooth: 0.25, smoothMonotone: 'x', clip: true, silent: true, z: 2,
      lineStyle: {color: color(c.tau), width: 2, type: c.dashed ? [5.5, 2.4] : 'solid'}});
  });

  series.push({type: 'custom', xAxisIndex: p * 2 + 1, yAxisIndex: p * 3 + 2, data: [[0.5, 0.5]], silent: true, z: 1,
    renderItem: (params, api) => {
      const a = api.coord([0, 0]), b = api.coord([1, 1]);
      return {type: 'rect', shape: {x: a[0], y: b[1], width: b[0] - a[0], height: a[1] - b[1]},
        style: {fill: new echarts.graphic.LinearGradient(0, 1, 0, 0, VIRIDIS.map((c, i) => ({offset: i / 10, color: c})))}};
    }});

  graphics.push({type: 'text', x: COL_LEFT[col] + COL_W[col] / 2, y: top - 12,
    style: {text: name, font: '18px "DejaVu Sans"', fill: '#000', align: 'center', verticalAlign: 'middle', textAlign: 'center', textVerticalAlign: 'middle'}});

  legends.push({data: ['res', 'coef'], orient: 'vertical', left: LEGEND_POS[p][0], top: LEGEND_POS[p][1],
    itemWidth: 33, itemHeight: 12, itemGap: 6, padding: [4, 8, 4, 6],
    backgroundColor: 'rgba(255,255,255,0.8)', borderColor: '#cccccc', borderWidth: 1, borderRadius: 3,
    selectedMode: false, itemStyle: {color: 'rgba(0,0,0,0)', borderWidth: 0},
    formatter: n => LEGEND_TEXT[n],
    textStyle: {fontFamily: FONT, fontSize: 16.5, color: '#000', rich: RICH}});
});

series.push({type: 'line', name: 'res', xAxisIndex: 0, yAxisIndex: 0, data: [], symbol: 'none',
  lineStyle: {color: '#000', width: 1.5, type: 'solid'}, itemStyle: {color: '#000'}});
series.push({type: 'line', name: 'coef', xAxisIndex: 0, yAxisIndex: 0, data: [], symbol: 'none',
  lineStyle: {color: '#000', width: 1.5, type: [5.5, 2.4]}, itemStyle: {color: '#000'}});

const chart = echarts.init(document.getElementById('c'), null, {renderer: 'canvas'});
chart.setOption({
  animation: false,
  backgroundColor: '#fff',
  textStyle: {fontFamily: FONT},
  grid: grids, xAxis: xAxes, yAxis: yAxes, series: series, legend: legends,
  graphic: {elements: graphics}
});
</script>
</body></html>
